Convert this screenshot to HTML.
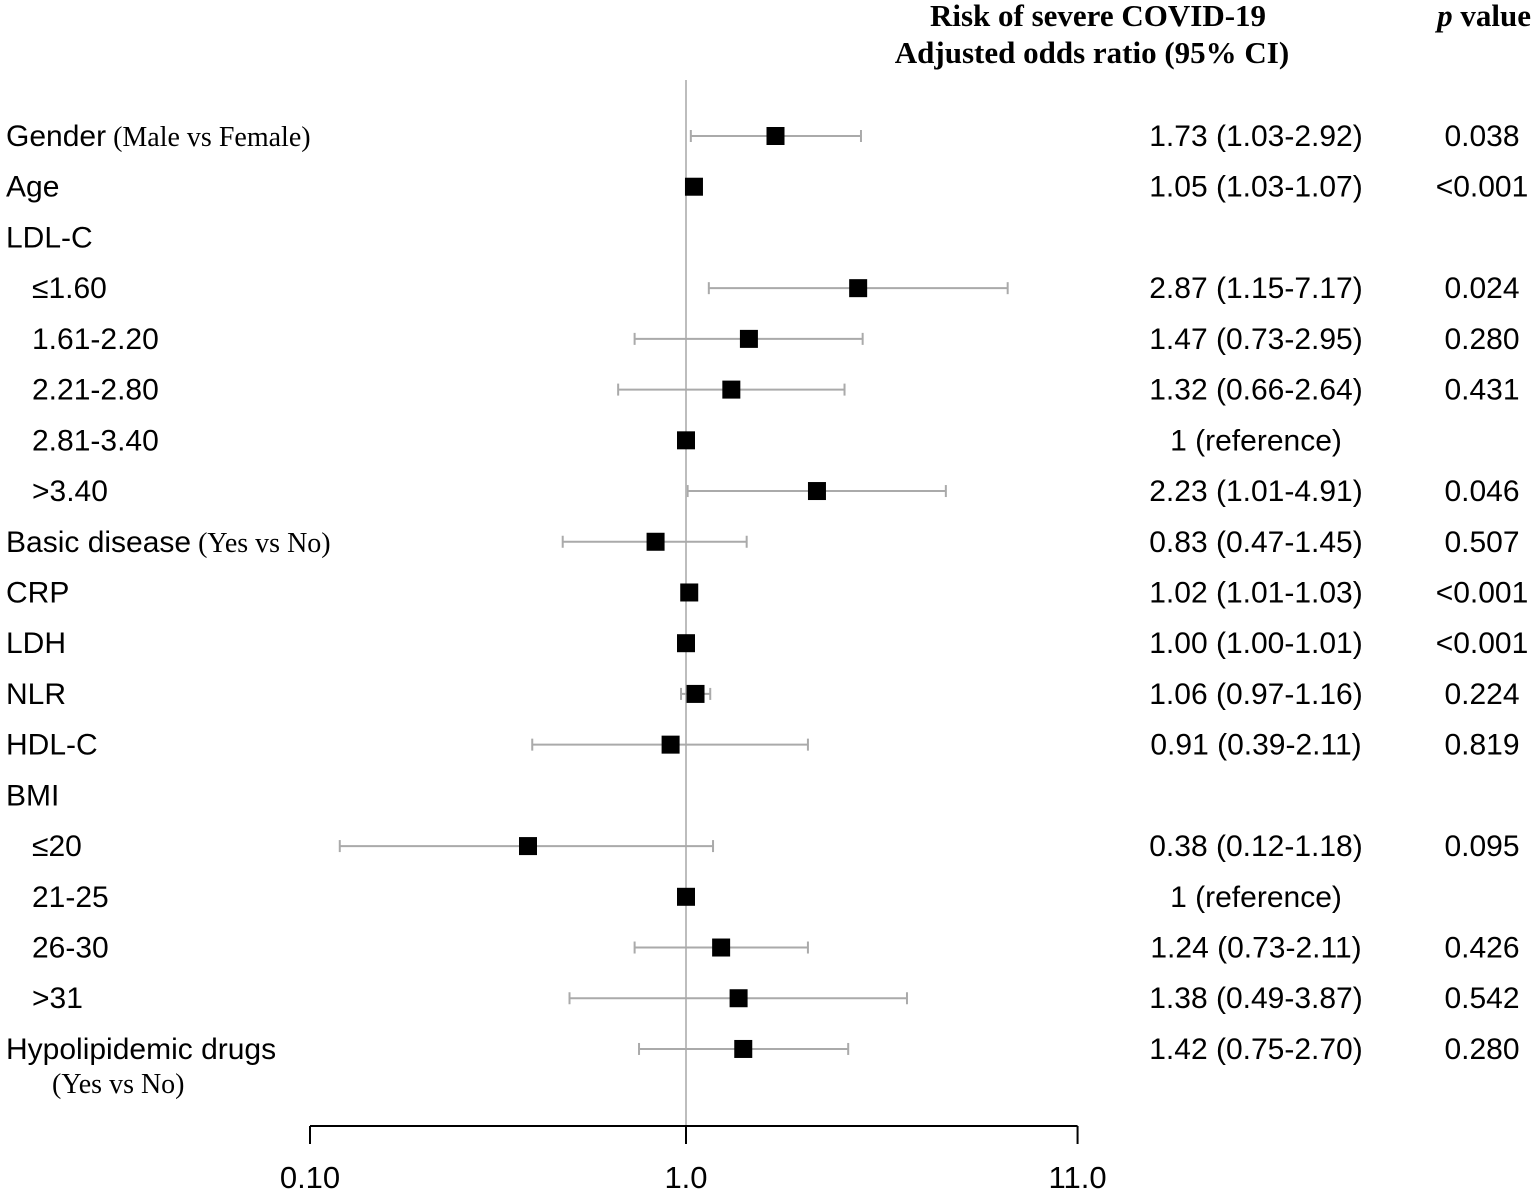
<!DOCTYPE html>
<html><head><meta charset="utf-8"><style>
body{margin:0;background:#fff}
svg text{font-family:"Liberation Sans",Arial,sans-serif}
.s{font-family:"Liberation Serif",serif}
</style></head><body>
<svg id="c" width="1536" height="1193" xmlns="http://www.w3.org/2000/svg">
<text class="s" x="1098" y="26" font-size="31" font-weight="bold" text-anchor="middle">Risk of severe COVID-19</text>
<text class="s" x="1092" y="63" font-size="31" font-weight="bold" text-anchor="middle">Adjusted odds ratio (95% CI)</text>
<text class="s" x="1531" y="26" font-size="31" font-weight="bold" text-anchor="end"><tspan font-style="italic">p</tspan> value</text>
<g id="plot"></g>
</svg>
<script>
const labels=["Gender","Age","LDL-C","≤1.60","1.61-2.20","2.21-2.80","2.81-3.40",">3.40","Basic disease","CRP","LDH","NLR","HDL-C","BMI","≤20","21-25","26-30",">31","Hypolipidemic drugs"];
const subs=[" (Male vs Female)","","","","","","",""," (Yes vs No)","","","","","","","","","",""];
const indent=[0,0,0,1,1,1,1,1,0,0,0,0,0,0,1,1,1,1,0];
const ors=[1.73,1.05,null,2.87,1.47,1.32,1,2.23,0.83,1.02,1.00,1.06,0.91,null,0.38,1,1.24,1.38,1.42];
const los=[1.03,1.03,null,1.15,0.73,0.66,1,1.01,0.47,1.01,1.00,0.97,0.39,null,0.12,1,0.73,0.49,0.75];
const his=[2.92,1.07,null,7.17,2.95,2.64,1,4.91,1.45,1.03,1.01,1.16,2.11,null,1.18,1,2.11,3.87,2.70];
const ciText=["1.73 (1.03-2.92)","1.05 (1.03-1.07)","","2.87 (1.15-7.17)","1.47 (0.73-2.95)","1.32 (0.66-2.64)","1 (reference)","2.23 (1.01-4.91)","0.83 (0.47-1.45)","1.02 (1.01-1.03)","1.00 (1.00-1.01)","1.06 (0.97-1.16)","0.91 (0.39-2.11)","","0.38 (0.12-1.18)","1 (reference)","1.24 (0.73-2.11)","1.38 (0.49-3.87)","1.42 (0.75-2.70)"];
const pText=["0.038","<0.001","","0.024","0.280","0.431","","0.046","0.507","<0.001","<0.001","0.224","0.819","","0.095","","0.426","0.542","0.280"];
const ticks=[0.1,1,11];
const tickLabels=["0.10","1.0","11.0"];
const NS="http://www.w3.org/2000/svg";
const g=document.getElementById('plot');
const xs=v=>686+376*Math.log10(v);
const ys=i=>136+i*50.72;
function mk(t,a,p){const e=document.createElementNS(NS,t);for(const k in a)e.setAttribute(k,a[k]);(p||g).appendChild(e);return e;}
const vl=mk('line',{x1:xs(1),x2:xs(1),y1:80,y2:1126,stroke:'#bdbdbd','stroke-width':2});


const ax=mk('line',{x1:xs(0.1),x2:xs(11),y1:1126,y2:1126,stroke:'#000','stroke-width':2});


ticks.forEach((t,i)=>{
 const l=mk('line',{x1:xs(t),x2:xs(t),y1:1126,y2:1144,stroke:'#000','stroke-width':2});
 
 
 const tx=mk('text',{x:xs(t),y:1188,'font-size':31,'text-anchor':'middle'});tx.textContent=tickLabels[i];
 
 
});
labels.forEach((lab,i)=>{
 const y=ys(i);
 const t=mk('text',{x:indent[i]?32:6,y:y+10,'font-size':30});
 
 
 t.textContent=lab;
 if(subs[i]&&i!==18){const s=mk('tspan',{'font-family':'Liberation Serif,serif','font-size':28},t);s.textContent=subs[i];}
 if(i===18){const s=mk('text',{x:52,y:y+44,'font-size':28,class:'s'});s.textContent="(Yes vs No)";
  
  }
 if(ors[i]!==null){
  if(los[i]!==his[i]){
   const w=mk('g',{stroke:'#aaa','stroke-width':2});
   
   
   mk('line',{x1:xs(los[i]),x2:xs(his[i]),y1:y,y2:y},w);
   mk('line',{x1:xs(los[i]),x2:xs(los[i]),y1:y-6,y2:y+6},w);
   mk('line',{x1:xs(his[i]),x2:xs(his[i]),y1:y-6,y2:y+6},w);
  }
  const r=mk('rect',{x:xs(ors[i])-9,y:y-9,width:18,height:18,fill:'#000'});
  
  
 }
 if(ciText[i]){const c=mk('text',{x:1256,y:y+10,'font-size':30,'text-anchor':'middle'});c.textContent=ciText[i];
  
  }
 if(pText[i]){const p=mk('text',{x:1482,y:y+10,'font-size':30,'text-anchor':'middle'});p.textContent=pText[i];
  
  }
});
</script>
</body></html>
